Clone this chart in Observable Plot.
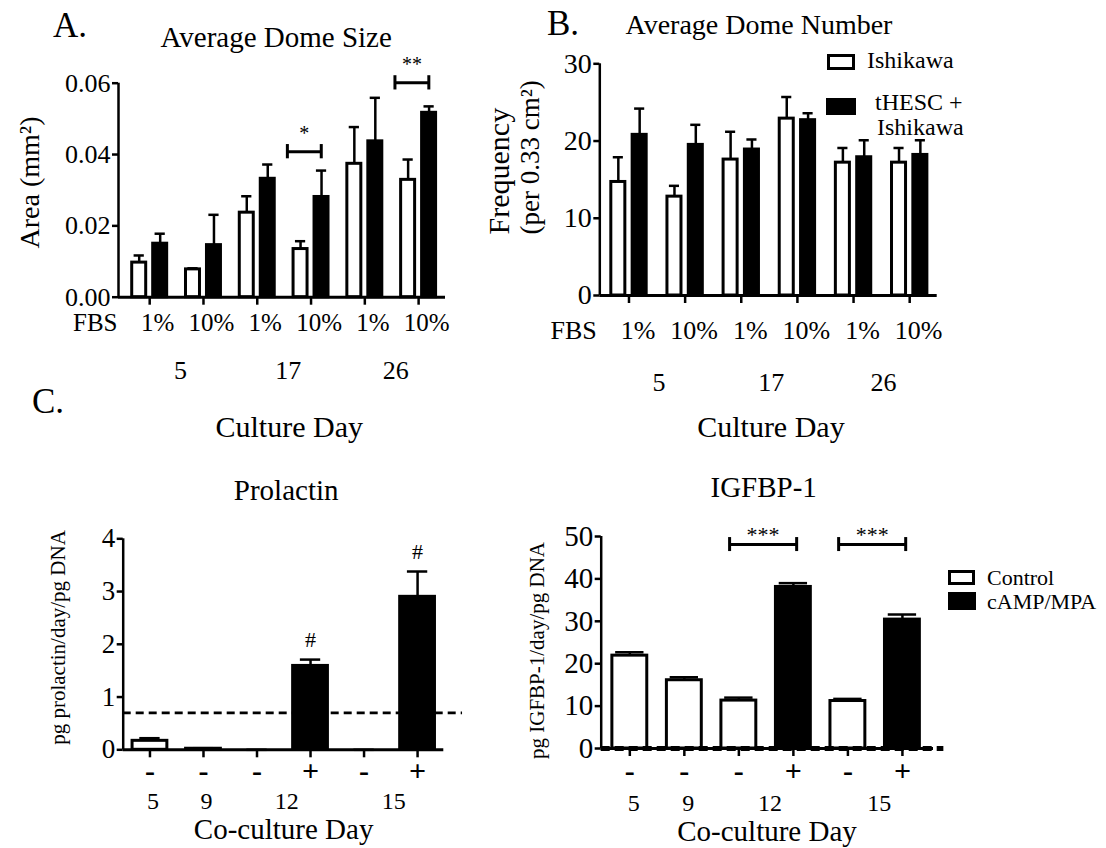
<!DOCTYPE html>
<html>
<head>
<meta charset="utf-8">
<script src="https://cdn.jsdelivr.net/npm/d3@7"></script>
<script src="https://cdn.jsdelivr.net/npm/@observablehq/plot@0.6"></script>
<style>
  html, body { margin: 0; padding: 0; background: #fff; }
  #root { position: relative; width: 1106px; height: 848px; overflow: hidden; background: #fff;
          font-family: "Liberation Serif", "Times New Roman", serif; color: #000; }
  #root svg { position: absolute; overflow: visible; font-family: "Liberation Serif", "Times New Roman", serif; }
  #root svg text { font-family: "Liberation Serif", "Times New Roman", serif; }
  .txt { position: absolute; white-space: nowrap; line-height: 1; }
  .box { position: absolute; box-sizing: border-box; border: 3px solid #000; }
</style>
</head>
<body>
<div id="root"></div>
<script>
// ---------------- DATA ----------------
// Panel A / B: FBS level per bar group, culture day per pair of groups
const fbsLevels = ["1%", "10%", "1%", "10%", "1%", "10%"];
const cultureDays = ["5", "17", "26"];

// A. Average dome size (mm^2): Ishikawa (open) vs tHESC + Ishikawa (filled), mean and mean+SEM
const sizeIshikawa     = [0.0097, 0.0078, 0.0237, 0.0135, 0.0374, 0.0329];
const sizeIshikawaErr  = [0.0117, 0.0081, 0.0283, 0.0157, 0.0477, 0.0386];
const sizeCoculture    = [0.0150, 0.0146, 0.0332, 0.0281, 0.0437, 0.0517];
const sizeCocultureErr = [0.0178, 0.0231, 0.0372, 0.0355, 0.0559, 0.0535];
const sizeSignif = [{group: 3, level: 0.0408, stars: "*"}, {group: 5, level: 0.0601, stars: "**"}];

// B. Average dome number (per 0.33 cm^2)
const numIshikawa     = [14.7, 12.8, 17.6, 22.9, 17.2, 17.2];
const numIshikawaErr  = [17.9, 14.2, 21.2, 25.7, 19.1, 19.1];
const numCoculture    = [20.8, 19.5, 18.9, 22.7, 17.9, 18.2];
const numCocultureErr = [24.2, 22.1, 20.2, 23.6, 20.1, 20.1];

// C / D: co-culture day per bar, treatment per bar
const coCultureDays = ["5", "9", "12", "15"];
const barDay = [0, 1, 2, 2, 3, 3];
const treatment = ["-", "-", "-", "+", "-", "+"];

// C. Prolactin (pg/day/pg DNA)
const prolactin    = [0.17, 0.02, 0, 1.59, 0, 2.90];
const prolactinErr = [0.22, 0.03, 0, 1.71, 0, 3.38];
const prolactinLimit = 0.70;
const prolactinSignif = [3, 5];

// D. IGFBP-1 (pg/day/pg DNA)
const igfbp    = [21.9, 16.1, 11.3, 38.1, 11.2, 30.4];
const igfbpErr = [22.7, 16.8, 12.0, 39.0, 11.7, 31.6];
const igfbpLimit = 0;
const igfbpSignif = [{from: 2, to: 3, level: 48.1, stars: "***"}, {from: 4, to: 5, level: 48.1, stars: "***"}];

// ---------------- HELPERS ----------------
const FONT = '"Liberation Serif", "Times New Roman", serif';
const root = document.getElementById("root");
const bars6 = d3.range(6);

function put(node, left, top) {
  node.style.left = left + "px";
  node.style.top = top + "px";
  root.appendChild(node);
}
function htmlText(str, left, baseline, size) {
  const d = document.createElement("div");
  d.className = "txt";
  d.textContent = str;
  d.style.fontSize = size + "px";
  put(d, left, baseline - 0.837 * size);
}
function htmlBox(left, top, w, h, filled) {
  const d = document.createElement("div");
  d.className = "box";
  d.style.width = w + "px";
  d.style.height = h + "px";
  d.style.background = filled ? "#000" : "#fff";
  put(d, left, top);
}
function axes(xd, yd, yTicks, fmt, tickFont) {
  return [
    Plot.axisY({ticks: yTicks, tickFormat: fmt, tickSize: 6, tickPadding: 2, strokeWidth: 2.5, fontSize: tickFont, fontFamily: FONT, label: null}),
    Plot.axisX({ticks: bars6, tickFormat: () => "", tickSize: 8, strokeWidth: 2.5, label: null}),
    Plot.ruleX([xd[0]], {y1: yd[0], y2: yd[1], strokeWidth: 2.5}),
    Plot.ruleY([0], {x1: xd[0], x2: xd[1], strokeWidth: 3})
  ];
}
function errorBars(pos, val, err, cap) {
  return [
    Plot.ruleX(bars6, {x: pos, y1: i => val[i], y2: i => err[i], strokeWidth: 2.5}),
    Plot.ruleY(bars6, {y: i => err[i], x1: i => pos(i) - cap, x2: i => pos(i) + cap, strokeWidth: 2.5})
  ];
}
function pairedBars(white, whiteErr, black, blackErr, off, half, cap) {
  const pw = i => i - off, pb = i => i + off;
  return [
    Plot.rect(bars6, {x1: i => pw(i) - half, x2: i => pw(i) + half, y1: 0, y2: i => white[i], fill: "white", stroke: "black", strokeWidth: 3}),
    Plot.rect(bars6, {x1: i => pb(i) - half, x2: i => pb(i) + half, y1: 0, y2: i => black[i], fill: "black", stroke: "black", strokeWidth: 3}),
    ...errorBars(pw, white, whiteErr, cap),
    ...errorBars(pb, black, blackErr, cap)
  ];
}
function treatedBars(vals, errs, half, cap) {
  return [
    Plot.rect(bars6, {x1: i => i - half, x2: i => i + half, y1: 0, y2: i => vals[i],
      fill: i => treatment[i] === "+" ? "black" : "white", stroke: "black", strokeWidth: 3}),
    ...errorBars(i => i, vals, errs, cap)
  ];
}
function dayCenter(k) { return d3.mean(bars6.filter(i => barDay[i] === k)); }
function T(data, opts) { return Plot.text(data, {fontFamily: FONT, ...opts}); }
function makePlot(o) {
  const svg = Plot.plot({
    width: o.width, height: o.height,
    marginLeft: o.ml, marginRight: o.mr, marginTop: o.mt, marginBottom: o.mb,
    x: {domain: o.xd}, y: {domain: o.yd},
    style: {fontFamily: FONT, fontSize: o.font + "px", background: "transparent", overflow: "visible", color: "black"},
    marks: o.marks
  });
  svg.setAttribute("font-family", FONT);
  svg.style.fontFamily = FONT;
  svg.querySelectorAll("text").forEach(t => t.style.fontFamily = FONT);
  return svg;
}

// ---------------- PANEL A ----------------
{
  const xd = [-0.58, 5.50], yd = [0, 0.06];
  const svg = makePlot({
    width: 480, height: 450, ml: 118, mr: 35, mt: 82.7, mb: 153.3, xd, yd, font: 26,
    marks: [
      ...pairedBars(sizeIshikawa, sizeIshikawaErr, sizeCoculture, sizeCocultureErr, 0.195, 0.13, 0.095),
      ...axes(xd, yd, [0, 0.02, 0.04, 0.06], d3.format(".2f"), 26),
      Plot.ruleY(sizeSignif, {y: "level", x1: d => d.group - 0.44, x2: d => d.group + 0.19, strokeWidth: 3}),
      Plot.ruleX(sizeSignif, {x: d => d.group - 0.44, y1: d => d.level - 0.002, y2: d => d.level + 0.002, strokeWidth: 3}),
      Plot.ruleX(sizeSignif, {x: d => d.group + 0.19, y1: d => d.level - 0.002, y2: d => d.level + 0.002, strokeWidth: 3}),
      T(sizeSignif, {x: d => d.group - 0.125, y: "level", text: "stars", dy: -12, lineAnchor: "bottom", fontSize: 20}),
      T(["Average Dome Size"], {frameAnchor: "top-left", dx: 42, dy: -35.7, textAnchor: "start", lineAnchor: "bottom", fontSize: 29}),
      T(["Area (mm²)"], {frameAnchor: "left", rotate: -90, dx: -80, dy: -7.7, textAnchor: "middle", lineAnchor: "bottom", fontSize: 28}),
      T(["FBS"], {x: xd[0], y: 0, dx: -1, dy: 34, textAnchor: "end", lineAnchor: "bottom", fontSize: 25}),
      T(bars6, {x: i => i, y: 0, text: i => fbsLevels[i], dx: 8, dy: 34, lineAnchor: "bottom", fontSize: 25}),
      T([0, 1, 2], {x: k => 2 * k + 0.5, y: 0, text: k => cultureDays[k], dx: 4, dy: 81.3, lineAnchor: "bottom", fontSize: 26}),
      T(["Culture Day"], {frameAnchor: "bottom-left", dx: 97, dy: 139.3, textAnchor: "start", lineAnchor: "bottom", fontSize: 30})
    ]
  });
  put(svg, 0, 0);
}

// ---------------- PANEL B ----------------
{
  const xd = [-0.52, 5.49], yd = [0, 30];
  const svg = makePlot({
    width: 626, height: 450, ml: 119.3, mr: 169.3, mt: 63.3, mb: 155, xd, yd, font: 28,
    marks: [
      ...pairedBars(numIshikawa, numIshikawaErr, numCoculture, numCocultureErr, 0.19, 0.125, 0.09),
      ...axes(xd, yd, [0, 10, 20, 30], d3.format("d"), 28),
      T(["Average Dome Number"], {frameAnchor: "top-left", dx: 25.7, dy: -30.3, textAnchor: "start", lineAnchor: "bottom", fontSize: 28}),
      T(["Frequency"], {frameAnchor: "left", rotate: -90, dx: -91.3, dy: 54.8, textAnchor: "start", lineAnchor: "bottom", fontSize: 30}),
      T(["(per 0.33 cm²)"], {frameAnchor: "left", rotate: -90, dx: -61.3, dy: 54.8, textAnchor: "start", lineAnchor: "bottom", fontSize: 27}),
      T(["FBS"], {x: xd[0], y: 0, dx: -3, dy: 43, textAnchor: "end", lineAnchor: "bottom", fontSize: 26}),
      T(bars6, {x: i => i, y: 0, text: i => fbsLevels[i], dx: 9, dy: 43, lineAnchor: "bottom", fontSize: 26}),
      T([0, 1, 2], {x: k => 2 * k + 0.5, y: 0, text: k => cultureDays[k], dx: 2, dy: 95, lineAnchor: "bottom", fontSize: 26}),
      T(["Culture Day"], {frameAnchor: "bottom-left", dx: 97.4, dy: 141, textAnchor: "start", lineAnchor: "bottom", fontSize: 30})
    ]
  });
  put(svg, 480, 0);
}

// ---------------- PANEL C ----------------
{
  const xd = [-0.5, 5.49], yd = [0, 4];
  const svg = makePlot({
    width: 520, height: 398, ml: 122.7, mr: 76.7, mt: 88.3, mb: 98.7, xd, yd, font: 27,
    marks: [
      ...treatedBars(prolactin, prolactinErr, 0.325, 0.19),
      ...axes(xd, yd, [0, 1, 2, 3, 4], d3.format("d"), 27),
      Plot.ruleY([prolactinLimit], {x1: xd[0], x2: 5.84, strokeDasharray: "8,5", strokeWidth: 2.7}),
      T(prolactinSignif, {x: i => i, y: i => prolactinErr[i], text: () => "#", dy: -13, lineAnchor: "bottom", fontSize: 22}),
      T(["Prolactin"], {frameAnchor: "top-left", dx: 110.6, dy: -39.3, textAnchor: "start", lineAnchor: "bottom", fontSize: 29}),
      T(["pg prolactin/day/pg DNA"], {frameAnchor: "left", rotate: -90, dx: -58.7, dy: -6.8, textAnchor: "middle", lineAnchor: "bottom", fontSize: 21}),
      T(bars6, {x: i => i, y: 0, text: i => treatment[i], dy: 31, lineAnchor: "bottom", fontSize: 30, fontWeight: "bold"}),
      T([0, 1, 2, 3], {x: dayCenter, y: 0, text: k => coCultureDays[k], dx: 3, dy: 59, lineAnchor: "bottom", fontSize: 24}),
      T(["Co-culture Day"], {frameAnchor: "bottom-left", dx: 70.6, dy: 88.7, textAnchor: "start", lineAnchor: "bottom", fontSize: 29})
    ]
  });
  put(svg, 0, 450);
}

// ---------------- PANEL D ----------------
{
  const xd = [-0.525, 5.57], yd = [0, 50];
  const svg = makePlot({
    width: 586, height: 398, ml: 80.7, mr: 173, mt: 86, mb: 100, xd, yd, font: 29,
    marks: [
      ...treatedBars(igfbp, igfbpErr, 0.32, 0.26),
      ...axes(xd, yd, [0, 10, 20, 30, 40, 50], d3.format("d"), 29),
      Plot.ruleY([igfbpLimit], {x1: xd[0], x2: 5.76, strokeDasharray: "9,5", strokeWidth: 5}),
      Plot.ruleY(igfbpSignif, {y: "level", x1: d => d.from - 0.17, x2: d => d.to + 0.06, strokeWidth: 3}),
      Plot.ruleX(igfbpSignif, {x: d => d.from - 0.17, y1: d => d.level - 1.65, y2: d => d.level + 1.65, strokeWidth: 3}),
      Plot.ruleX(igfbpSignif, {x: d => d.to + 0.06, y1: d => d.level - 1.65, y2: d => d.level + 1.65, strokeWidth: 3}),
      T(igfbpSignif, {x: d => (d.from + d.to) / 2 - 0.055, y: "level", text: "stars", dy: -3, lineAnchor: "bottom", fontSize: 22}),
      T(["IGFBP-1"], {frameAnchor: "top-left", dx: 109.3, dy: -40, textAnchor: "start", lineAnchor: "bottom", fontSize: 29}),
      T(["pg IGFBP-1/day/pg DNA"], {frameAnchor: "left", rotate: -90, dx: -57.7, dy: 8, textAnchor: "middle", lineAnchor: "bottom", fontSize: 21}),
      T(bars6, {x: i => i, y: 0, text: i => treatment[i], dy: 32.5, lineAnchor: "bottom", fontSize: 30, fontWeight: "bold"}),
      T([0, 1, 2, 3], {x: dayCenter, y: 0, text: k => coCultureDays[k], dx: 4, dy: 62, lineAnchor: "bottom", fontSize: 24}),
      T(["Co-culture Day"], {frameAnchor: "bottom-left", dx: 76, dy: 92, textAnchor: "start", lineAnchor: "bottom", fontSize: 29})
    ]
  });
  put(svg, 520, 450);
}

// ---------------- PANEL LETTERS & LEGENDS ----------------
htmlText("A.", 53, 37, 35);
htmlText("B.", 547, 35, 35);
htmlText("C.", 32, 413, 35);

htmlBox(827, 54, 28, 16, false);
htmlText("Ishikawa", 867, 68, 24);
htmlBox(826, 98, 30, 17, true);
htmlText("tHESC +", 875, 110, 24);
htmlText("Ishikawa", 877, 135, 24);

htmlBox(948, 570, 27, 15, false);
htmlText("Control", 987, 585, 22);
htmlBox(948, 592, 28, 18, true);
htmlText("cAMP/MPA", 987, 609, 22);
</script>
</body>
</html>
